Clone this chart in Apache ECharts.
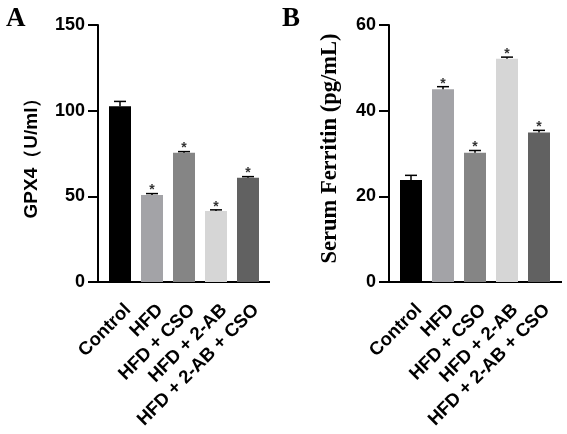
<!DOCTYPE html>
<html>
<head>
<meta charset="utf-8">
<script src="https://cdn.jsdelivr.net/npm/echarts@6/dist/echarts.min.js"></script>
<style>
  html, body { margin: 0; padding: 0; background: #fff; }
  #chart { width: 567px; height: 434px; }
</style>
</head>
<body>
<div id="chart"></div>
<script>
var groups = ['Control', 'HFD', 'HFD + CSO', 'HFD + 2-AB', 'HFD + 2-AB + CSO'];
var gpx4Mean = [102.6, 50.8, 75.5, 41.5, 60.9];
var gpx4Err = [2.8, 0.8, 0.6, 0.6, 0.6];
var ferritinMean = [23.8, 45.0, 30.2, 52.1, 34.9];
var ferritinErr = [1.1, 0.6, 0.5, 0.4, 0.5];
var starred = [false, true, true, true, true];
var barColors = ['#000000', '#a3a3a7', '#858585', '#d6d6d6', '#616161'];

var sans = 'Liberation Sans, Arial, sans-serif';
var serif = 'Liberation Serif, Times New Roman, serif';

var dom = document.getElementById('chart');
var myChart = echarts.init(dom, null, { renderer: 'canvas' });

function errData(mean, err) {
  return mean.map(function (m, i) { return [i, m, err[i], starred[i] ? 1 : 0]; });
}

function renderErr(params, api) {
  var i = api.value(0);
  var top = api.coord([i, api.value(1) + api.value(2)]);
  var base = api.coord([i, api.value(1)]);
  var x = top[0];
  var kids = [
    { type: 'line', shape: { x1: x, y1: base[1], x2: x, y2: top[1] }, style: { stroke: '#000', lineWidth: 1.5 } },
    { type: 'line', shape: { x1: x - 6, y1: top[1], x2: x + 6, y2: top[1] }, style: { stroke: '#000', lineWidth: 1.5 } }
  ];
  if (api.value(3)) {
    kids.push({ type: 'text', style: { x: x, y: top[1] - 3, text: '*', fill: '#333', font: 'bold 14px ' + sans, align: 'center', verticalAlign: 'middle' } });
  }
  return { type: 'group', children: kids };
}

function xAxisFor(idx) {
  return {
    type: 'category', gridIndex: idx, data: groups,
    axisLine: { lineStyle: { color: '#000', width: 2 } },
    axisTick: { alignWithLabel: true, length: 10, lineStyle: { color: '#000', width: 2 } },
    axisLabel: {
      rotate: 45, margin: 17, color: '#000', fontSize: 18.5, fontWeight: 'bold', fontFamily: sans,
      interval: 0, verticalAlign: 'top', padding: [2, 0, 0, 0]
    }
  };
}

function yAxisFor(idx, max, interval, name, nameFont, nameSize, gap, namePad) {
  return {
    type: 'value', gridIndex: idx, min: 0, max: max, interval: interval, offset: 6,
    name: name, nameLocation: 'middle', nameGap: gap,
    nameTextStyle: { color: '#000', fontSize: nameSize, fontWeight: 'bold', fontFamily: nameFont, padding: namePad },
    splitLine: { show: false },
    axisLine: { show: true, lineStyle: { color: '#000', width: 2 } },
    axisTick: { show: true, length: 10, lineStyle: { color: '#000', width: 2 } },
    axisLabel: { margin: 13, color: '#000', fontSize: 18, fontWeight: 'bold', fontFamily: sans }
  };
}

var option = {
  backgroundColor: '#fff',
  animation: false,
  grid: [
    { left: 104, top: 25, width: 160, height: 257, outerBoundsMode: 'none' },
    { left: 395, top: 25, width: 160, height: 257, outerBoundsMode: 'none' }
  ],
  xAxis: [xAxisFor(0), xAxisFor(1)],
  yAxis: [
    yAxisFor(0, 150, 50, 'GPX4（U/ml）', sans, 19, 57, 0),
    yAxisFor(1, 60, 20, 'Serum Ferritin (pg/mL)', serif, 22.5, 47, [0, 0, 0, 10])
  ],
  series: [
    {
      type: 'bar', xAxisIndex: 0, yAxisIndex: 0, barWidth: 22,
      data: gpx4Mean.map(function (v, i) { return { value: v, itemStyle: { color: barColors[i] } }; })
    },
    { type: 'custom', xAxisIndex: 0, yAxisIndex: 0, renderItem: renderErr, data: errData(gpx4Mean, gpx4Err), z: 5 },
    {
      type: 'bar', xAxisIndex: 1, yAxisIndex: 1, barWidth: 22,
      data: ferritinMean.map(function (v, i) { return { value: v, itemStyle: { color: barColors[i] } }; })
    },
    { type: 'custom', xAxisIndex: 1, yAxisIndex: 1, renderItem: renderErr, data: errData(ferritinMean, ferritinErr), z: 5 }
  ],
  graphic: [
    { type: 'text', left: 6, top: 6, style: { text: 'A', font: 'bold 27px ' + serif, fill: '#000' } },
    { type: 'text', left: 282, top: 6, style: { text: 'B', font: 'bold 27px ' + serif, fill: '#000' } },
    // axis lines in the figure run a bit past the outer bars
    { type: 'line', shape: { x1: 98, y1: 282, x2: 270, y2: 282 }, style: { stroke: '#000', lineWidth: 2 } },
    { type: 'line', shape: { x1: 389, y1: 282, x2: 562, y2: 282 }, style: { stroke: '#000', lineWidth: 2 } }
  ]
};

myChart.setOption(option);
window.addEventListener('resize', myChart.resize);
</script>
</body>
</html>
